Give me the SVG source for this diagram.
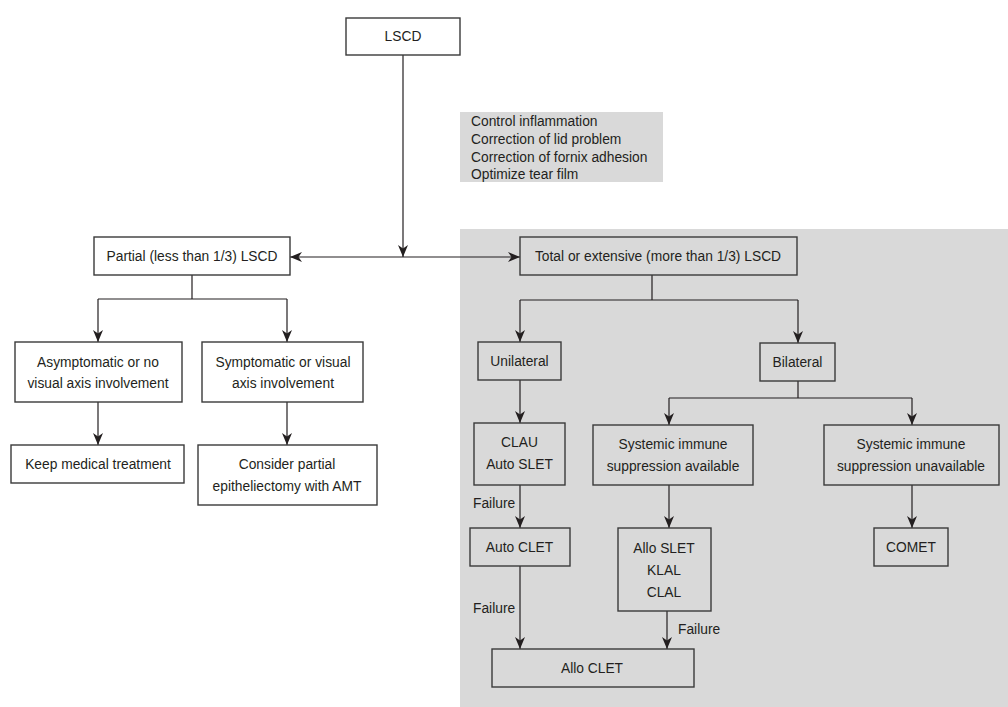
<svg xmlns="http://www.w3.org/2000/svg" width="1008" height="707" viewBox="0 0 1008 707">
<style>
.bx{fill:#fff;stroke:#3a3a3a;stroke-width:1.4}
.bg{fill:#d9d9d9;stroke:#3a3a3a;stroke-width:1.4}
.t{font-family:"Liberation Sans",Arial,sans-serif;font-size:13.8px;fill:#231f20;text-anchor:middle}
.tl{font-family:"Liberation Sans",Arial,sans-serif;font-size:13.8px;fill:#231f20}
.c{fill:none;stroke:#231f20;stroke-width:1.2}
.a{marker-end:url(#ah)}
</style>
<defs>
<marker id="ah" markerUnits="userSpaceOnUse" markerWidth="13" markerHeight="11" refX="12" refY="5" orient="auto-start-reverse" viewBox="0 0 13 10">
<path d="M0,0 L12,5 L0,10 L3.5,5 z" fill="#231f20"/>
</marker>
</defs>
<rect x="0" y="0" width="1008" height="707" fill="#fff"/>
<rect x="460" y="229" width="548" height="478" fill="#d9d9d9"/>
<g id="connectors">
<path class="c a" d="M403,55 V257"/>
<path class="c" d="M290,257 H520" marker-start="url(#ah)" marker-end="url(#ah)"/>
<path class="c" d="M192,275 V299 M98,299 H287"/>
<path class="c a" d="M98,299 V342"/>
<path class="c a" d="M287,299 V342"/>
<path class="c a" d="M98,402 V445"/>
<path class="c a" d="M287,402 V445"/>
<path class="c" d="M652,275 V300 M520,300 H798"/>
<path class="c a" d="M520,300 V342"/>
<path class="c a" d="M798,300 V343"/>
<path class="c a" d="M520,380 V423"/>
<path class="c" d="M798,381 V398 M669,398 H912"/>
<path class="c a" d="M669,398 V425"/>
<path class="c a" d="M912,398 V425"/>
<path class="c a" d="M520,485 V528"/>
<path class="c a" d="M669,485 V528"/>
<path class="c a" d="M912,485 V528"/>
<path class="c a" d="M520,566 V649"/>
<path class="c a" d="M667,611 V649"/>
<text class="tl" x="473" y="508">Failure</text>
<text class="tl" x="473" y="613">Failure</text>
<text class="tl" x="678" y="634">Failure</text>
</g>
<g id="lscd"><rect class="bx" x="346" y="18" width="114" height="37"/><text class="t" x="403" y="41">LSCD</text></g>
<g id="measures"><rect x="460" y="112" width="203" height="70" fill="#d9d9d9"/>
<text class="tl" x="471" y="126">Control inflammation</text>
<text class="tl" x="471" y="144">Correction of lid problem</text>
<text class="tl" x="471" y="162">Correction of fornix adhesion</text>
<text class="tl" x="471" y="179">Optimize tear film</text></g>
<g id="partial"><rect class="bx" x="94" y="237" width="196" height="38"/><text class="t" x="192" y="261">Partial (less than 1/3) LSCD</text></g>
<g id="total"><rect class="bg" x="520" y="237" width="277" height="38"/><text class="t" x="658" y="261">Total or extensive (more than 1/3) LSCD</text></g>
<g id="asymptomatic"><rect class="bx" x="15" y="342" width="167" height="60"/><text class="t" x="98" y="367">Asymptomatic or no</text><text class="t" x="98" y="388">visual axis involvement</text></g>
<g id="symptomatic"><rect class="bx" x="202" y="342" width="161" height="60"/><text class="t" x="283" y="367">Symptomatic or visual</text><text class="t" x="283" y="388">axis involvement</text></g>
<g id="keep"><rect class="bx" x="11" y="445" width="173" height="38"/><text class="t" x="98" y="469">Keep medical treatment</text></g>
<g id="consider"><rect class="bx" x="198" y="445" width="179" height="60"/><text class="t" x="287" y="469">Consider partial</text><text class="t" x="287" y="491">epitheliectomy with AMT</text></g>
<g id="unilateral"><rect class="bg" x="478" y="342" width="83" height="38"/><text class="t" x="519.5" y="366">Unilateral</text></g>
<g id="bilateral"><rect class="bg" x="760" y="343" width="75" height="38"/><text class="t" x="797.5" y="367">Bilateral</text></g>
<g id="clau"><rect class="bg" x="474" y="423" width="91" height="62"/><text class="t" x="519.5" y="447">CLAU</text><text class="t" x="519.5" y="469">Auto SLET</text></g>
<g id="available"><rect class="bg" x="593" y="425" width="160" height="60"/><text class="t" x="673" y="449">Systemic immune</text><text class="t" x="673" y="471">suppression available</text></g>
<g id="unavailable"><rect class="bg" x="824" y="425" width="175" height="60"/><text class="t" x="911" y="449">Systemic immune</text><text class="t" x="911" y="471">suppression unavailable</text></g>
<g id="autoclet"><rect class="bg" x="470" y="528" width="100" height="38"/><text class="t" x="519.5" y="552">Auto CLET</text></g>
<g id="alloslet"><rect class="bg" x="618" y="528" width="93" height="83"/><text class="t" x="664" y="553">Allo SLET</text><text class="t" x="664" y="575">KLAL</text><text class="t" x="664" y="597">CLAL</text></g>
<g id="comet"><rect class="bg" x="874" y="528" width="74" height="38"/><text class="t" x="911" y="552">COMET</text></g>
<g id="alloclet"><rect class="bg" x="492" y="649" width="202" height="38"/><text class="t" x="592" y="673">Allo CLET</text></g>
</svg>
